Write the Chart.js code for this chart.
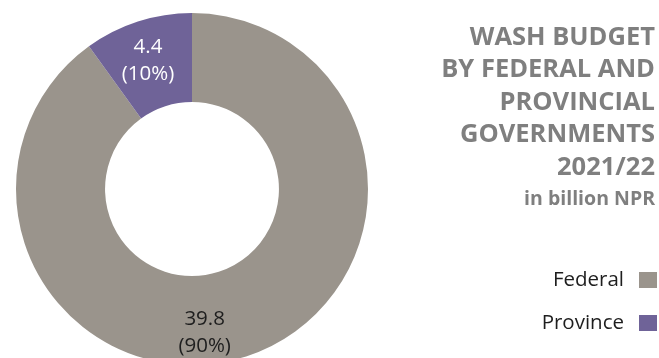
<!DOCTYPE html>
<html>
<head>
<meta charset="utf-8">
<script src="https://cdn.jsdelivr.net/npm/chart.js@4/dist/chart.umd.min.js"></script>
<style>
html,body{margin:0;padding:0;background:#fff;overflow:hidden;width:659px;height:358px;}
#wrap{position:absolute;left:0;top:0;width:659px;height:378px;}
</style>
</head>
<body>
<div id="wrap"><canvas id="c" width="659" height="378"></canvas></div>
<script>
const categories = ["Federal", "Province"];
const values = [39.8, 4.4];
const percentLabels = ["(90%)", "(10%)"];
const colors = ["#9a948c", "#6f6398"];
const labelColors = ["#1e1e1e", "#ffffff"];
const titleLines = ["WASH BUDGET", "BY FEDERAL AND", "PROVINCIAL", "GOVERNMENTS", "2021/22"];
const subtitle = "in billion NPR";

const labelPlugin = {
  id: 'customText',
  afterDraw(chart) {
    const ctx = chart.ctx;
    const meta = chart.getDatasetMeta(0);
    ctx.save();
    // slice labels
    const angleShift = [0.223, -0.012];
    const radiusFactor = [1.075, 1.05];
    meta.data.forEach((arc, i) => {
      const p = arc.getProps(['x','y','startAngle','endAngle','innerRadius','outerRadius'], true);
      const a = (p.startAngle + p.endAngle) / 2 + angleShift[i];
      const r = (p.innerRadius + p.outerRadius) / 2 * radiusFactor[i];
      const cx = p.x + Math.cos(a) * r;
      const cy = p.y + Math.sin(a) * r + 2.5;
      ctx.fillStyle = labelColors[i];
      ctx.font = '20.5px "Open Sans"';
      ctx.textAlign = 'center';
      ctx.textBaseline = 'middle';
      ctx.fillText(String(values[i]), cx, cy - 13.5);
      ctx.fillText(percentLabels[i], cx, cy + 13.5);
    });
    // title
    ctx.fillStyle = '#7f7f7f';
    ctx.textAlign = 'right';
    ctx.textBaseline = 'alphabetic';
    ctx.font = 'bold 25.5px "Open Sans"';
    titleLines.forEach((t, i) => ctx.fillText(t, 655, 45 + i * 32.4));
    ctx.font = 'bold 19.5px "Open Sans"';
    ctx.fillText(subtitle, 655, 205);
    // legend
    ctx.font = '20.5px "Open Sans"';
    ctx.textBaseline = 'middle';
    categories.forEach((c, i) => {
      const y = 280 + i * 43;
      ctx.fillStyle = '#1e1e1e';
      ctx.fillText(c, 624, y);
      ctx.fillStyle = colors[i];
      ctx.fillRect(639, y - 8, 18, 16);
    });
    ctx.restore();
  }
};

function make() {
  new Chart(document.getElementById('c'), {
    type: 'doughnut',
    data: {
      labels: categories,
      datasets: [{
        data: values,
        backgroundColor: colors,
        borderWidth: 0,
        radius: 176,
        cutout: '49.4%'
      }]
    },
    options: {
      responsive: false,
      animation: false,
      layout: { padding: { left: 0, right: 275, top: 0, bottom: 0 } },
      plugins: { legend: { display: false }, tooltip: { enabled: false } }
    },
    plugins: [labelPlugin]
  });
}
if (document.fonts && document.fonts.load) {
  Promise.all([document.fonts.load('bold 25px "Open Sans"'), document.fonts.load('20px "Open Sans"')]).then(make, make);
} else make();
</script>
</body>
</html>
